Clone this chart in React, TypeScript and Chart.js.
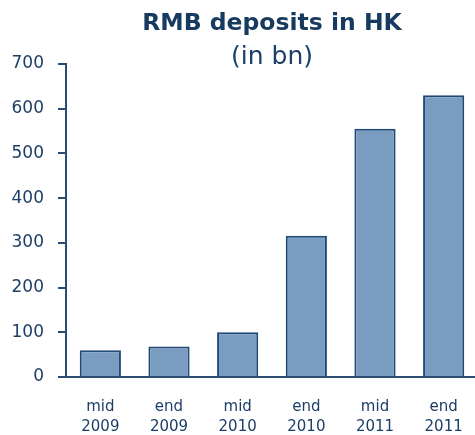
import React, { useEffect, useRef } from "react";
import { Chart, registerables } from "chart.js";

Chart.register(...registerables);

const categories: string[][] = [
  ["mid", "2009"],
  ["end", "2009"],
  ["mid", "2010"],
  ["end", "2010"],
  ["mid", "2011"],
  ["end", "2011"],
];
const deposits: number[] = [60, 68, 100, 316, 555, 630];
const yMin = 0;
const yMax = 700;
const yStep = 100;

const NAVY = "#1d3e66";
const AXIS = "#2a4c74";
const BAR_FILL = "#7a9cc0";
const BAR_BORDER = "#1f4a78";
const FONT = "'DejaVu Sans', Verdana, sans-serif";

export default function App() {
  const ref = useRef<HTMLCanvasElement | null>(null);

  useEffect(() => {
    if (!ref.current) return;
    const chart = new Chart(ref.current, {
      type: "bar",
      data: {
        labels: categories,
        datasets: [
          {
            data: deposits,
            backgroundColor: BAR_FILL,
            borderColor: BAR_BORDER,
            borderWidth: 2,
            barPercentage: 0.6,
            categoryPercentage: 1,
          },
        ],
      },
      options: {
        responsive: false,
        animation: false,
        layout: { padding: 0 },
        plugins: {
          legend: { display: false },
          tooltip: { enabled: false },
          title: {
            display: true,
            text: "RMB deposits in HK",
            color: "#163a60",
            fullSize: false,
            font: { family: FONT, size: 23.5, weight: "bold", lineHeight: 1 },
            padding: { top: 12, bottom: 0 },
          },
          subtitle: {
            display: true,
            text: "(in bn)",
            color: "#1d3e66",
            fullSize: false,
            font: { family: FONT, size: 25, weight: "normal", lineHeight: 1 },
            padding: { top: 9, bottom: -5.5 },
          },
        },
        scales: {
          x: {
            grid: { display: false },
            border: { display: true, color: AXIS, width: 2 },
            ticks: {
              color: NAVY,
              font: { family: FONT, size: 15, lineHeight: 1.33 },
              padding: 12,
              maxRotation: 0,
              autoSkip: false,
            },
            afterFit: (s: any) => {
              s.height = 58;
            },
          },
          y: {
            min: yMin,
            max: yMax,
            grid: {
              display: true,
              drawOnChartArea: false,
              drawTicks: true,
              tickLength: 8,
              color: AXIS,
              lineWidth: 2,
            },
            border: { display: true, color: AXIS, width: 2 },
            ticks: {
              stepSize: yStep,
              color: NAVY,
              font: { family: FONT, size: 17 },
              padding: 14,
            },
            afterFit: (s: any) => {
              s.width = 66;
            },
          },
        },
      },
    });
    return () => chart.destroy();
  }, []);

  return (
    <div
      style={{
        position: "absolute",
        left: 0,
        top: 0,
        width: 475,
        height: 435,
        overflow: "hidden",
        background: "#ffffff",
      }}
    >
      <canvas ref={ref} width={478} height={435} style={{ display: "block" }} />
    </div>
  );
}
